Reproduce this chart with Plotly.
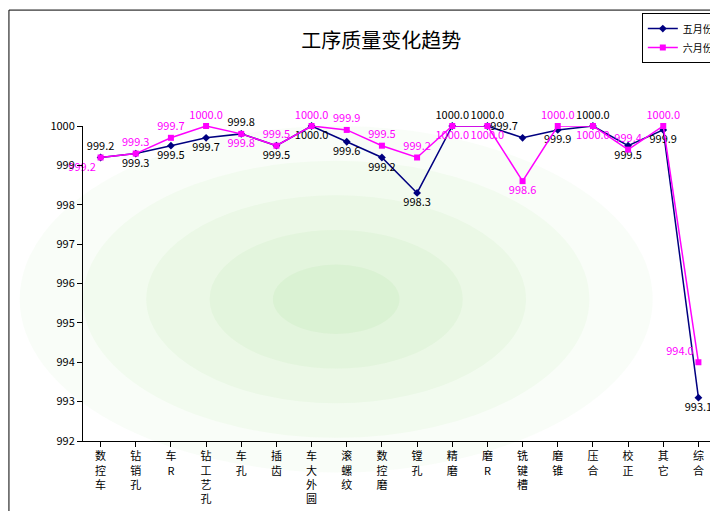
import plotly.graph_objects as go

categories = ["数控车", "钻销孔", "车R", "钻工艺孔", "车孔", "插齿", "车大外圆", "滚螺纹", "数控磨",
              "镗孔", "精磨", "磨R", "铣键槽", "磨锥", "压合", "校正", "其它", "综合"]
may = [999.2, 999.3, 999.5, 999.7, 999.8, 999.5, 1000.0, 999.6, 999.2,
       998.3, 1000.0, 1000.0, 999.7, 999.9, 1000.0, 999.5, 999.9, 993.1]
june = [999.2, 999.3, 999.7, 1000.0, 999.8, 999.5, 1000.0, 999.9, 999.5,
        999.2, 1000.0, 1000.0, 998.6, 1000.0, 1000.0, 999.4, 1000.0, 994.0]

may_pos = ["top center", "bottom center", "bottom center", "bottom center", "top center", "bottom center",
           "bottom center", "bottom center", "bottom center", "bottom center", "top center", "top center",
           "top left", "bottom center", "top center", "bottom center", "bottom center", "bottom center"]
june_pos = ["bottom left", "top center", "top center", "top center", "bottom center", "top center",
            "top center", "top center", "top center", "top center", "bottom center", "bottom center",
            "bottom center", "top center", "bottom center", "top center", "top center", "top left"]

# vertical tick labels, one char per line
ticktext = ["<br>".join(c) for c in categories]

fig = go.Figure()

# soft green glow in the plot area
glow = []
for rx, ry, op in [(0.5, 0.55, 0.06), (0.4, 0.44, 0.07), (0.3, 0.33, 0.08), (0.2, 0.22, 0.09), (0.1, 0.11, 0.1)]:
    glow.append(dict(type="circle", xref="paper", yref="paper",
                     x0=0.4 - rx, x1=0.4 + rx, y0=0.45 - ry, y1=0.45 + ry,
                     fillcolor="rgba(150,220,130,%s)" % op, line_width=0, layer="below"))

fig.add_trace(go.Scatter(x=categories, y=may, name="五月份", mode="lines+markers+text", cliponaxis=False,
                         line=dict(color="#000080", width=1.5), marker=dict(symbol="diamond", size=6, color="#000080"),
                         text=["%.1f" % v for v in may], textposition=may_pos,
                         textfont=dict(color="black", size=11)))
fig.add_trace(go.Scatter(x=categories, y=june, name="六月份", mode="lines+markers+text", cliponaxis=False,
                         line=dict(color="#FF00FF", width=1.5), marker=dict(symbol="square", size=6, color="#FF00FF"),
                         text=["%.1f" % v for v in june], textposition=june_pos,
                         textfont=dict(color="#FF00FF", size=11)))

fig.update_layout(
    width=718, height=511,
    paper_bgcolor="white", plot_bgcolor="rgba(0,0,0,0)",
    font=dict(family="Noto Sans CJK SC, SimSun", size=11, color="black"),
    title=dict(text="工序质量变化趋势", x=0.52, y=0.95, font=dict(size=20)),
    margin=dict(l=75, r=10, t=118, b=78, autoexpand=False),
    showlegend=True,
    legend=dict(x=0.99, y=0.99, xref="container", yref="container", xanchor="right", yanchor="top",
                bordercolor="black", borderwidth=1, bgcolor="white", font=dict(size=10)),
    xaxis=dict(tickmode="array", tickvals=categories, ticktext=ticktext, showgrid=False,
               showline=True, linecolor="black", ticks="outside", tickcolor="black", range=[-0.5, 17.5]),
    yaxis=dict(range=[992, 1000], dtick=1, showgrid=False, showline=True, linecolor="black",
               ticks="outside", tickcolor="black", zeroline=False),
    shapes=glow + [dict(type="rect", xref="paper", yref="paper", x0=-0.117, x1=1.0125,
                        y0=-0.241, y1=1.368, line=dict(color="black", width=1))],
)

fig.write_html("out.html")
